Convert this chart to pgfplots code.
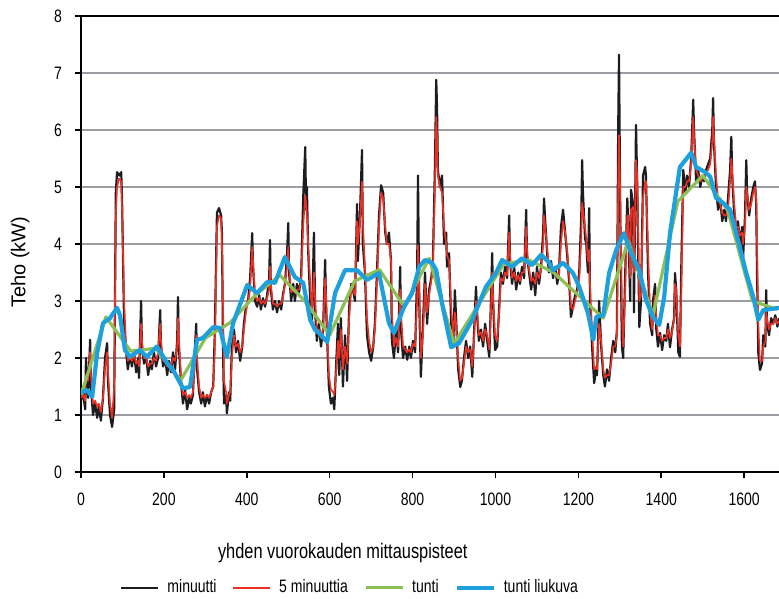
\documentclass[border=0pt]{standalone}
\usepackage{fontspec}
\setmainfont{Liberation Sans}
\newfontfamily\narrow{Liberation Sans}[FakeStretch=0.78]
\usepackage{pgfplots}
\pgfplotsset{compat=1.18}
\usepackage{pgfplotstable}

\definecolor{minblack}{RGB}{30,28,32}
\definecolor{fivered}{RGB}{236,48,36}
\definecolor{hourgreen}{RGB}{140,192,84}
\definecolor{movblue}{RGB}{30,160,220}
\definecolor{gridgray}{RGB}{155,157,162}

% x  minuutti  5 minuuttia
\pgfplotstableread{
x b r
0 1.25 1.3
5 1.4 1.35
10 1.1 1.25
12 2.0 1.7
17 1.3 1.6
22 2.32 2.1
24 1.5 1.7
29 1.0 1.2
34 1.2 1.25
39 0.95 1.15
43 1.15 1.2
48 0.9 1.05
53 1.3 1.3
58 2.0 1.8
63 2.26 2.1
65 1.6 1.8
70 1.0 1.2
75 0.79 0.95
80 1.1 1.5
84 4.9 4.5
87 5.26 5.0
92 5.2 5.15
97 5.26 5.1
99 4.8 4.6
104 2.6 3.0
109 2.1 2.2
113 1.8 1.95
118 2.05 2.0
123 1.85 1.95
128 2.1 2.05
133 1.75 1.9
138 2.0 1.95
140 1.65 1.85
145 3.0 2.6
147 2.2 2.3
152 1.9 2.0
157 2.05 2.0
162 1.7 1.85
167 1.95 1.9
171 1.8 1.9
176 2.1 2.0
181 1.85 1.95
186 2.0 2.1
191 2.84 2.6
193 2.2 2.3
198 1.85 1.95
203 2.0 1.95
208 1.7 1.85
212 1.95 1.9
217 1.75 1.85
222 2.1 2.0
227 1.8 1.95
232 2.3 2.2
234 3.07 2.7
236 2.2 2.4
241 1.6 1.7
246 1.2 1.35
251 1.45 1.4
256 1.1 1.3
261 1.3 1.35
265 1.2 1.3
270 1.35 1.4
275 2.2 2.0
278 2.6 2.4
280 1.8 2.0
285 1.4 1.5
290 1.2 1.3
294 1.4 1.35
299 1.15 1.3
304 1.35 1.35
309 1.2 1.3
314 1.4 1.4
319 1.5 1.5
323 2.5 2.2
328 4.55 4.3
333 4.63 4.5
338 4.5 4.45
340 4.2 4.0
343 2.0 2.8
345 1.2 1.6
350 1.35 1.4
352 1.03 1.2
357 1.4 1.35
360 1.25 1.4
364 2.2 2.0
369 2.5 2.4
374 2.1 2.2
379 2.3 2.25
384 1.95 2.1
389 2.2 2.2
393 2.6 2.5
398 2.9 2.8
403 3.0 3.0
408 3.4 3.2
413 4.19 3.95
415 3.6 3.7
420 3.0 3.1
425 2.9 3.0
430 3.1 3.05
434 2.85 2.95
439 3.05 3.0
444 2.9 2.95
449 3.1 3.05
454 3.4 3.2
456 4.07 3.6
458 3.2 3.3
463 2.85 2.95
468 3.0 2.95
473 2.8 2.9
478 3.0 2.95
483 2.85 2.95
487 3.1 3.05
492 3.3 3.3
497 3.8 3.6
500 4.37 3.95
502 3.5 3.6
507 3.0 3.15
512 3.3 3.2
516 3.0 3.15
521 3.3 3.2
526 3.15 3.2
531 3.4 3.35
536 4.8 4.3
541 5.7 4.85
543 4.6 4.7
545 5.0 4.5
548 3.9 4.0
553 3.0 3.3
557 2.6 2.8
562 4.2 3.5
565 2.8 3.0
569 2.3 2.5
574 2.6 2.5
579 2.2 2.35
584 2.5 2.5
589 3.72 3.4
591 3.0 3.1
594 2.3 2.5
598 1.5 1.7
603 1.2 1.45
608 1.3 1.4
611 1.1 1.35
615 1.8 1.7
620 2.6 2.3
623 1.7 2.0
627 2.7 2.5
632 1.5 1.8
637 2.4 2.2
642 1.6 1.9
647 2.9 2.7
652 3.3 3.2
656 3.2 3.2
661 3.0 3.1
666 4.7 4.4
668 3.7 4.0
673 4.5 4.4
678 5.65 5.09
680 4.0 4.4
685 3.5 3.6
690 2.4 2.7
695 2.1 2.3
700 1.95 2.1
705 2.2 2.2
709 2.6 2.5
714 3.5 3.3
719 4.5 4.3
724 5.03 4.9
729 4.9 4.8
734 4.2 4.3
738 4.0 4.0
743 4.2 4.0
748 3.7 3.7
750 2.3 2.8
755 2.0 2.2
760 2.5 2.35
765 2.1 2.2
770 3.6 3.2
772 2.5 2.8
777 2.0 2.2
782 2.2 2.15
787 1.97 2.1
792 2.2 2.15
796 2.0 2.1
801 2.3 2.25
806 2.1 2.2
811 3.5 3.0
813 5.2 3.98
816 3.0 3.3
820 1.67 2.0
825 2.6 2.4
830 3.5 3.3
835 2.6 2.8
840 3.2 3.1
845 3.4 3.35
849 3.7 3.6
854 5.4 5.0
857 6.88 6.23
859 6.4 5.9
861 5.3 5.2
866 5.0 5.0
871 5.2 4.9
876 4.0 4.3
881 4.2 4.0
883 3.6 3.8
888 3.84 3.7
893 2.6 2.9
898 2.2 2.4
902 3.19 2.8
905 2.7 2.6
910 1.8 2.0
915 1.49 1.6
919 1.6 1.65
924 2.0 1.9
929 2.3 2.2
934 2.0 2.1
939 2.2 2.15
944 1.67 1.85
948 2.4 2.3
953 3.25 3.0
956 2.7 2.8
960 2.3 2.4
965 2.5 2.45
970 2.2 2.3
975 2.6 2.5
980 2.3 2.4
985 2.02 2.15
989 3.0 2.8
992 3.84 3.5
994 3.0 3.1
999 2.14 2.4
1004 2.2 2.3
1009 2.9 2.8
1013 3.5 3.4
1018 3.3 3.35
1023 3.6 3.5
1028 3.4 3.45
1033 4.5 4.2
1035 3.7 3.8
1040 3.3 3.4
1045 3.6 3.5
1050 3.2 3.35
1055 3.5 3.45
1059 3.3 3.35
1064 3.6 3.5
1069 3.4 3.5
1074 4.6 4.3
1076 3.8 3.9
1081 3.5 3.55
1086 3.2 3.35
1091 3.5 3.4
1096 3.1 3.3
1100 3.6 3.5
1105 3.3 3.4
1110 3.6 3.55
1115 4.2 4.0
1117 4.8 4.5
1120 4.4 4.3
1125 3.8 3.9
1129 3.5 3.6
1134 3.7 3.65
1139 3.4 3.5
1144 3.6 3.5
1149 3.3 3.4
1153 3.5 3.45
1158 4.3 4.0
1163 4.6 4.4
1168 4.2 4.2
1173 3.8 3.9
1178 3.3 3.4
1182 2.72 2.9
1187 2.9 2.85
1192 3.1 3.0
1197 3.2 3.15
1202 3.5 3.4
1207 4.5 4.1
1209 5.47 4.72
1211 4.9 4.6
1216 4.1 4.3
1219 4.0 4.1
1223 3.5 3.7
1226 4.63 3.9
1228 3.0 3.3
1233 2.2 2.5
1238 1.56 1.8
1243 1.8 1.85
1245 1.7 1.8
1250 3.0 2.6
1255 2.2 2.3
1260 1.7 1.8
1264 1.5 1.65
1269 1.8 1.7
1274 1.6 1.7
1279 2.0 1.9
1284 2.3 2.2
1289 2.1 2.2
1293 2.5 2.4
1296 6.0 5.0
1298 7.32 5.91
1301 4.5 4.8
1305 2.2 2.8
1308 2.0 2.2
1313 3.5 3.2
1318 4.8 4.5
1320 4.4 4.5
1325 3.0 3.4
1327 4.95 4.6
1332 4.7 4.65
1334 2.8 3.5
1339 6.09 5.47
1342 5.0 5.2
1347 2.54 3.0
1351 3.0 3.1
1356 5.2 4.8
1361 5.35 5.1
1363 5.2 5.1
1368 3.5 3.9
1373 2.6 2.8
1378 2.4 2.5
1380 3.0 2.8
1385 3.3 3.1
1388 2.5 2.7
1392 2.2 2.4
1397 2.44 2.4
1402 2.14 2.3
1407 2.4 2.35
1412 2.3 2.35
1416 2.6 2.5
1421 2.19 2.35
1426 2.5 2.45
1431 2.7 2.7
1433 3.49 3.3
1436 3.2 3.2
1441 2.1 2.4
1445 2.02 2.2
1448 3.5 3.0
1453 5.3 5.0
1458 4.9 5.0
1462 5.2 5.1
1467 5.0 5.1
1472 5.5 5.4
1477 6.53 6.23
1479 6.0 5.9
1484 5.1 5.3
1489 5.3 5.2
1494 5.0 5.1
1499 5.2 5.15
1503 5.1 5.15
1508 5.3 5.25
1513 5.4 5.3
1518 5.5 5.4
1523 6.0 5.8
1525 6.56 6.23
1527 5.8 5.9
1532 5.0 5.2
1537 4.6 4.8
1542 4.8 4.7
1547 4.4 4.55
1552 4.6 4.5
1556 4.4 4.5
1561 4.8 4.6
1566 5.3 5.1
1569 5.88 5.5
1571 5.2 5.3
1576 4.5 4.7
1581 4.2 4.3
1585 4.4 4.3
1590 4.0 4.15
1595 4.3 4.2
1597 3.7 4.0
1602 4.5 4.3
1605 5.47 5.0
1607 4.9 4.9
1612 4.5 4.6
1617 4.8 4.7
1622 5.0 4.9
1626 5.1 5.0
1629 4.7 4.8
1631 3.5 4.0
1634 2.1 2.6
1638 1.79 1.95
1643 1.9 1.95
1646 2.4 2.2
1651 2.2 2.3
1653 3.19 2.8
1655 2.6 2.7
1660 2.4 2.5
1665 2.7 2.6
1670 2.6 2.6
1675 2.75 2.7
1680 2.55 2.6
1684 2.7 2.65
}\minutetable

% tunti
\pgfplotstableread{
x v
0 1.35
60 2.72
120 2.12
180 2.17
240 1.6
300 2.35
360 2.62
420 3.1
480 3.45
540 3.0
600 2.4
660 3.35
720 3.55
780 2.9
840 3.75
900 2.25
960 2.95
1020 3.65
1080 3.72
1140 3.5
1200 3.1
1260 2.7
1320 4.05
1380 2.75
1440 4.75
1500 5.2
1560 4.6
1620 3.0
1680 2.85
}\hourtable

% tunti liukuva
\pgfplotstableread{
x v
0 1.39
14 1.44
27 1.32
39 2.09
53 2.61
70 2.7
87 2.88
94 2.75
106 2.14
118 2.02
142 2.14
159 2.02
183 2.2
208 1.91
222 1.79
246 1.47
263 1.49
280 2.32
294 2.35
319 2.54
335 2.53
352 2.02
367 2.61
401 3.28
425 3.14
449 3.33
468 3.32
492 3.77
516 3.42
536 3.32
553 2.67
565 2.49
574 2.44
594 2.28
613 3.14
637 3.54
666 3.54
690 3.37
719 3.49
743 2.61
755 2.44
779 2.89
799 3.14
816 3.6
830 3.72
847 3.67
857 3.54
871 2.96
893 2.19
912 2.26
944 2.67
977 3.25
1001 3.49
1016 3.72
1040 3.6
1064 3.75
1088 3.63
1110 3.81
1129 3.68
1139 3.54
1163 3.67
1187 3.49
1202 3.25
1223 2.79
1236 2.32
1243 2.72
1260 2.75
1274 3.49
1291 3.89
1310 4.19
1327 3.84
1347 3.54
1363 3.02
1380 2.72
1395 2.58
1407 3.07
1421 4.19
1445 5.35
1472 5.6
1484 5.35
1506 5.26
1518 5.18
1532 4.81
1549 4.72
1566 4.6
1585 4.07
1605 3.49
1622 3.07
1634 2.67
1646 2.84
1684 2.88
}\movtable

\begin{document}
\begin{tikzpicture}
\begin{axis}[
  width=349pt, height=228pt, scale only axis,
  xmin=0, xmax=1684, ymin=0, ymax=8,
  axis x line=bottom, axis y line=left,
  axis line style={-, line width=1pt, black},
  xtick={0,200,...,1600}, ytick={0,1,...,7},
  extra y ticks={8},
  extra y tick style={ymajorgrids=true, major grid style={black, line width=1pt}},
  ymajorgrids, major grid style={gridgray, line width=1pt},
  tick align=outside, major tick length=3pt,
  tick style={black, line width=0.8pt},
  /pgf/number format/assume math mode=true,
  /pgf/number format/1000 sep={},
  ticklabel style={font=\narrow\fontsize{9}{11}\selectfont},
  xticklabel style={yshift=-4pt},
  yticklabel style={xshift=-3pt},
  xlabel={yhden vuorokauden mittauspisteet},
  xlabel style={at={(axis description cs:0.375,-0.178)}, anchor=center, font=\narrow\fontsize{10.5}{12}\selectfont},
  ylabel={Teho (kW)},
  ylabel style={at={(axis description cs:-0.087,0.46)}, anchor=center, font=\fontsize{10}{12}\selectfont},
  legend columns=4,
  legend cell align=left,
  legend style={draw=none, fill=none, at={(axis description cs:0.387,-0.254)}, anchor=center,
    font=\narrow\fontsize{9}{11}\selectfont,
    /tikz/every odd column/.append style={column sep=2pt},
    /tikz/every even column/.append style={column sep=6pt}},
  legend image code/.code={\draw[#1, line cap=butt] (0pt,0pt) -- (18.5pt,0pt);},
  line join=round,
]
\addplot[minblack, line width=1.1pt] table[x=x, y=b] {\minutetable};
\addlegendentry{minuutti}
\addplot[fivered, line width=0.8pt] table[x=x, y=r] {\minutetable};
\addlegendentry{5 minuuttia}
\addplot[hourgreen, line width=1.6pt] table[x=x, y=v] {\hourtable};
\addlegendentry{tunti}
\addplot[movblue, line width=2.1pt] table[x=x, y=v] {\movtable};
\addlegendentry{tunti liukuva}
\coordinate (ll) at (rel axis cs:0,0);
\coordinate (ur) at (rel axis cs:1,1);
\end{axis}
\pgfresetboundingbox
\path[use as bounding box] ([xshift=-40.5pt,yshift=-63.5pt]ll) rectangle ([yshift=8pt]ur);
\end{tikzpicture}
\end{document}
